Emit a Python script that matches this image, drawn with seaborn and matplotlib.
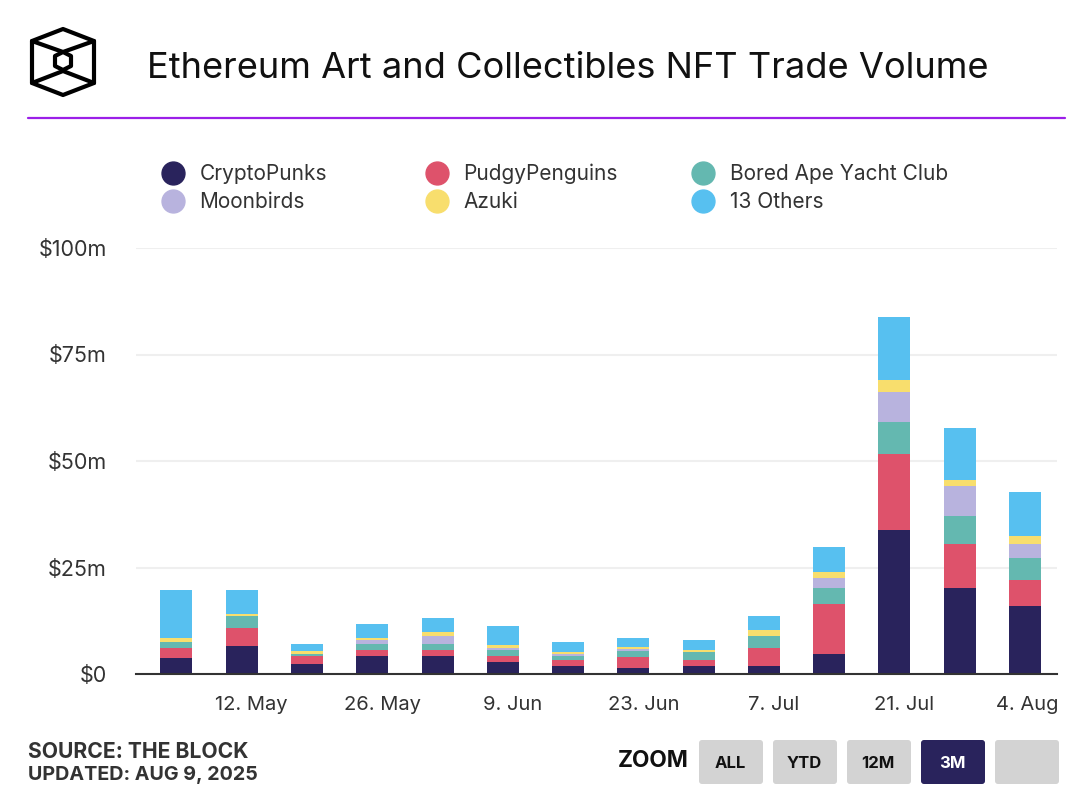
import matplotlib
matplotlib.use("Agg")
import pandas as pd
import seaborn as sns
import matplotlib.pyplot as plt
from matplotlib.lines import Line2D
from matplotlib.patches import FancyBboxPatch, Polygon
from matplotlib.transforms import ScaledTranslation

weeks = ['5. May','12. May','19. May','26. May','2. Jun','9. Jun','16. Jun','23. Jun','30. Jun','7. Jul','14. Jul','21. Jul','28. Jul','4. Aug']
punks = [3.8,6.6,2.4,4.3,4.3,2.9,1.9,1.5,1.9,1.9,4.7,33.8,20.2,16.0]
pudgy = [2.4,4.2,1.9,1.4,1.4,1.4,1.4,2.4,1.4,4.2,11.7,17.8,10.3,6.1]
bored = [1.4,2.8,0.5,1.4,1.4,1.4,0.9,1.4,1.9,2.8,3.8,7.5,6.6,5.2]
moonbirds = [0,0,0,0.9,1.9,0.5,0.5,0.5,0,0,2.4,7.0,7.0,3.3]
azuki = [0.9,0.5,0.5,0.5,0.9,0.5,0.5,0.5,0.5,1.4,1.4,2.8,1.4,1.9]
others = [11.3,5.6,1.7,3.3,3.3,4.5,2.4,2.2,2.2,3.3,5.9,15.0,12.2,10.3]

names = ['CryptoPunks','PudgyPenguins','Bored Ape Yacht Club','Moonbirds','Azuki','13 Others']
colors = ['#29235C','#DE526B','#64B8B0','#B8B3DE','#F8DE6D','#57C0F0']
series = [punks,pudgy,bored,moonbirds,azuki,others]

yticks = [0,25,50,75,100]
ylabels = ['$0','$25m','$50m','$75m','$100m']
shown_ticks = ['12. May','26. May','9. Jun','23. Jun','7. Jul','21. Jul','4. Aug']
buttons = ['ALL','YTD','12M','3M','']

sns.set_theme(style='white')
plt.rcParams['font.family'] = ['Inter','DejaVu Sans']

W, H = 1092, 800
fig = plt.figure(figsize=(W/100, H/100), dpi=100, facecolor='white')
ax = fig.add_axes([136/W, (H-674)/H, 921/W, 426/H])

df = pd.DataFrame({'week': weeks})
bottom = [0]*len(weeks)
for name, color, values in zip(names, colors, series):
    df[name] = values
    sns.barplot(data=df, x='week', y=name, order=weeks, color=color, saturation=1,
                width=0.49, bottom=bottom, linewidth=0, ax=ax)
    bottom = [b+v for b, v in zip(bottom, values)]

ax.set_xlim(-0.62, 13.37+0.12)
ax.set_ylim(0, 100)
ax.set_xlabel('')
ax.set_ylabel('')
ax.set_yticks(yticks, ylabels)
ax.set_xticks([weeks.index(t) for t in shown_ticks], shown_ticks)
ax.tick_params(axis='y', length=0, pad=21, labelsize=15.5, labelcolor='#333333')
ax.tick_params(axis='x', length=0, pad=16, labelsize=14.5, labelcolor='#333333')
ax.grid(axis='y', color='#EFEFEF', linewidth=1.5, zorder=0)
ax.set_axisbelow(True)
sns.despine(ax=ax, left=True)
ax.spines['bottom'].set_color('#333333')
ax.spines['bottom'].set_linewidth(1.5)
for lab in ax.get_xticklabels():
    dx = 2 if lab.get_text() == '4. Aug' else 10
    lab.set_transform(lab.get_transform() + ScaledTranslation(dx/100, 0, fig.dpi_scale_trans))

# page furniture in pixel coordinates
page = fig.add_axes([0, 0, 1, 1], facecolor='none')
page.set_xlim(0, W)
page.set_ylim(H, 0)
page.axis('off')

logo = dict(fill=False, edgecolor='black', linewidth=3, joinstyle='round')
page.add_patch(Polygon([(63,29),(94,41),(94,83),(63,95),(32,83),(32,41)], **logo))
page.add_patch(Polygon([(63,52),(71,56),(71,66),(63,70),(55,66),(55,56)], **logo))
page.plot([32,63,94], [41,52,41], color='black', lw=3)
page.plot([32,63,94], [83,71,83], color='black', lw=3)

page.text(147, 68, 'Ethereum Art and Collectibles NFT Trade Volume', fontsize=26.1,
          va='center', color='#111111')
page.plot([28,1065], [118,118], color='#9B1FE8', lw=1.6)

# three legend columns, filled top to bottom
for x, col in zip([160, 424, 690], [(0,3), (1,4), (2,5)]):
    handles = [Line2D([], [], ls='', marker='o', ms=16.5, color=colors[i], label=names[i]) for i in col]
    leg = page.legend(handles=handles, loc='upper left', bbox_to_anchor=(x, 164),
                      bbox_transform=page.transData, frameon=False, fontsize=15,
                      labelcolor='#333333', labelspacing=0.38, handlelength=1.2,
                      handletextpad=0.7, borderpad=0, borderaxespad=0)
    page.add_artist(leg)
    page.legend_ = None

page.text(28, 752, 'SOURCE: THE BLOCK', fontsize=15.2, fontweight='bold', va='center', color='#333333')
page.text(28, 775, 'UPDATED: AUG 9, 2025', fontsize=14.2, fontweight='bold', va='center', color='#333333')
page.text(618, 761, 'ZOOM', fontsize=16.3, fontweight='bold', va='center', color='#111111')

for i, label in enumerate(buttons):
    x0 = 699 + 74*i
    selected = label == '3M'
    page.add_patch(FancyBboxPatch((x0+3, 743), 58, 38, boxstyle='round,pad=3', linewidth=0,
                                  facecolor='#29235C' if selected else '#D3D3D3'))
    page.text(x0+31, 764, label, fontsize=12, fontweight='bold', ha='center', va='center',
              color='white' if selected else '#111111')

fig.savefig('out.png', dpi=100)
